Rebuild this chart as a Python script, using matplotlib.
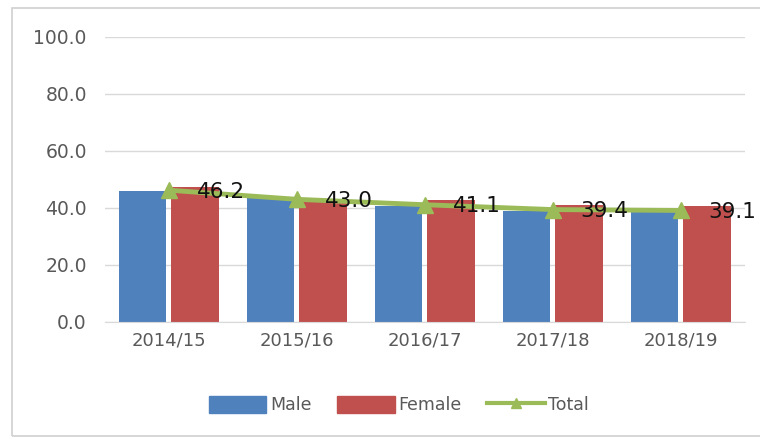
import matplotlib
matplotlib.use('Agg')
import matplotlib.pyplot as plt
from matplotlib.patches import Rectangle
from matplotlib.lines import Line2D
import numpy as np

years = ['2014/15', '2015/16', '2016/17', '2017/18', '2018/19']
male = [46.0, 43.4, 40.5, 39.0, 39.0]
female = [47.2, 42.2, 42.6, 41.0, 40.5]
total = [46.2, 43.0, 41.1, 39.4, 39.1]
yticks = [0, 20, 40, 60, 80, 100]

c_male = '#4F81BD'
c_female = '#C0504D'
c_total = '#9BBB59'
grey = '#595959'

fig = plt.figure(figsize=(7.6, 4.38), dpi=100)
# light frame round the chart, open on the right like the screenshot
fig.patches.append(Rectangle((12 / 760, 2 / 438), 1.0, 428 / 438,
                             transform=fig.transFigure, fill=False,
                             edgecolor='#D0D0D0', linewidth=1.2))

ax = fig.add_axes([0.138, 0.265, 0.842, 0.651])
x = np.arange(len(years))
w = 0.37
gap = 0.04
ax.bar(x - (w + gap) / 2, male, w, color=c_male, label='Male', zorder=2)
ax.bar(x + (w + gap) / 2, female, w, color=c_female, label='Female', zorder=2)
ax.plot(x, total, color=c_total, linewidth=3.5, marker='^', markersize=12,
        label='Total', zorder=3)
for xi, v in zip(x, total):
    ax.annotate('%.1f' % v, (xi, v), xytext=(20, -1), textcoords='offset points',
                ha='left', va='center', fontsize=15.5, color='#111111', zorder=4)

ax.set_xlim(-0.5, len(years) - 0.5)
ax.set_ylim(0, 100)
ax.set_yticks(yticks)
ax.set_yticklabels(['%.1f' % t for t in yticks])
ax.set_xticks(x)
ax.set_xticklabels(years)
ax.tick_params(axis='y', length=0, labelsize=13.5, colors=grey, pad=13)
ax.tick_params(axis='x', length=0, labelsize=13, colors=grey, pad=7)
ax.grid(axis='y', color='#D9D9D9', linewidth=1, zorder=0)
for s in ['top', 'right', 'left']:
    ax.spines[s].set_visible(False)
ax.spines['bottom'].set_color('#D9D9D9')

handles = [Rectangle((0, 0), 1, 1, color=c_male),
           Rectangle((0, 0), 1, 1, color=c_female),
           Line2D([], [], color=c_total, linewidth=3, marker='^', markersize=7)]
fig.legend(handles, ['Male', 'Female', 'Total'], loc='center',
           bbox_to_anchor=(0.525, 0.075), ncol=3, frameon=False, fontsize=12.5,
           handlelength=3.3, handleheight=1.1, columnspacing=1.5,
           handletextpad=0.2, labelcolor=grey)

fig.savefig('out.png', dpi=100)
